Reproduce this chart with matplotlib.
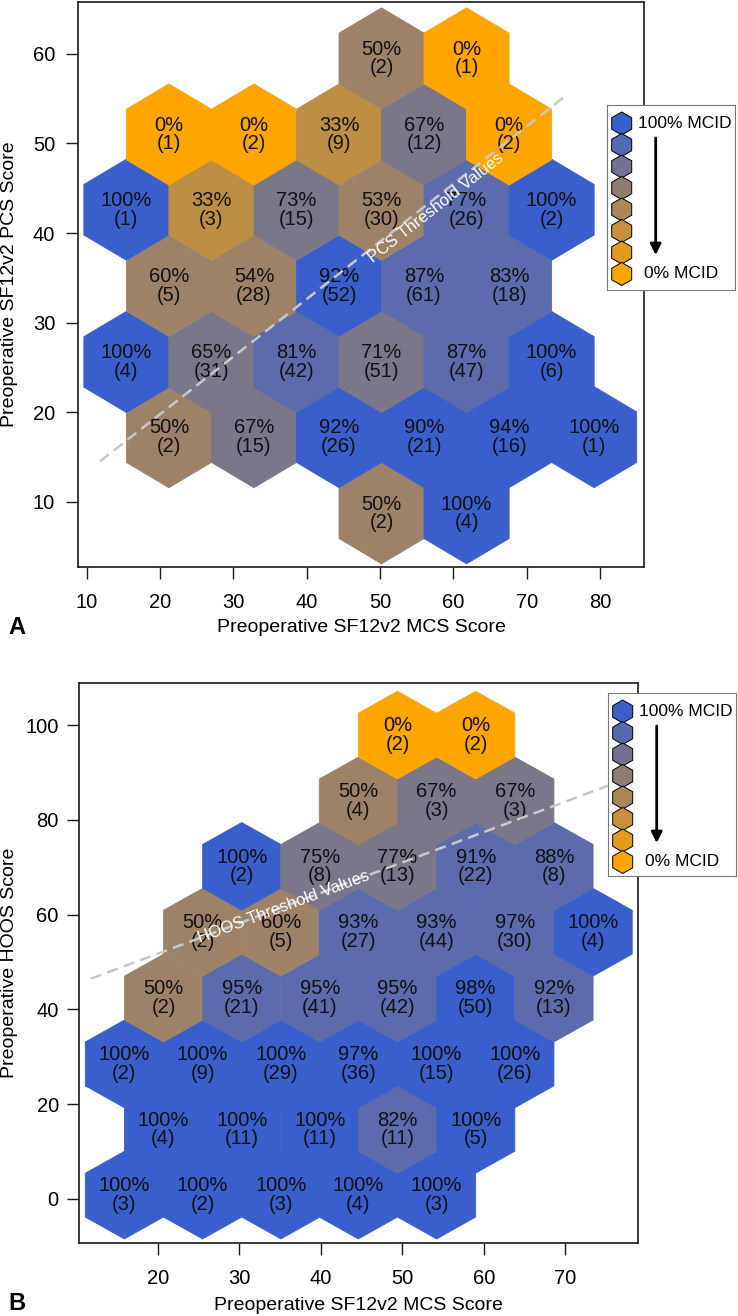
import numpy as np
import matplotlib
matplotlib.use("Agg")
import matplotlib.pyplot as plt
from matplotlib.collections import PolyCollection

plt.rcParams['font.family'] = ['Liberation Sans', 'DejaVu Sans']

W, H = 738, 1316

# ---- panel A: preop MCS (x) vs preop PCS (y), hex bin centres ----
a_mcs = [50.2, 61.8,
         21.2, 32.8, 44.4, 56.0, 67.6, 79.2,
         15.4, 27.0, 38.6, 50.2, 61.8, 73.4,
         21.2, 32.8, 44.4, 56.0, 67.6,
         15.4, 27.0, 38.6, 50.2, 61.8, 73.4,
         21.2, 32.8, 44.4, 56.0, 67.6,
         50.2, 61.8]
a_pcs = [8.7, 8.7,
         17.2, 17.2, 17.2, 17.2, 17.2, 17.2,
         25.6, 25.6, 25.6, 25.6, 25.6, 25.6,
         34.1, 34.1, 34.1, 34.1, 34.1,
         42.6, 42.6, 42.6, 42.6, 42.6, 42.6,
         51.0, 51.0, 51.0, 51.0, 51.0,
         59.5, 59.5]
a_pct = [50, 100,
         50, 67, 92, 90, 94, 100,
         100, 65, 81, 71, 87, 100,
         60, 54, 92, 87, 83,
         100, 33, 73, 53, 77, 100,
         0, 0, 33, 67, 0,
         50, 0]
a_n = [2, 4,
       2, 15, 26, 21, 16, 1,
       4, 31, 42, 51, 47, 6,
       5, 28, 52, 61, 18,
       1, 3, 15, 30, 26, 2,
       1, 2, 9, 12, 2,
       2, 1]
# colour class as drawn (0 = 100% MCID ... 6 = 0% MCID)
a_level = [3, 0,
           3, 2, 0, 0, 0, 0,
           0, 2, 1, 2, 1, 0,
           3, 3, 0, 1, 1,
           0, 4, 2, 3, 1, 0,
           6, 6, 4, 2, 6,
           3, 6]

# ---- panel B: preop MCS (x) vs preop HOOS (y) ----
b_mcs = [15.9, 25.5, 35.1, 44.6, 54.2,
         20.7, 30.3, 39.9, 49.4, 59.0,
         15.9, 25.5, 35.1, 44.6, 54.2, 63.8,
         20.7, 30.3, 39.9, 49.4, 59.0, 68.6,
         25.5, 35.1, 44.6, 54.2, 63.8, 73.4,
         30.3, 39.9, 49.4, 59.0, 68.6,
         44.6, 54.2, 63.8,
         49.4, 59.0]
b_hoos = [0.8, 0.8, 0.8, 0.8, 0.8,
          14.7, 14.7, 14.7, 14.7, 14.7,
          28.5, 28.5, 28.5, 28.5, 28.5, 28.5,
          42.4, 42.4, 42.4, 42.4, 42.4, 42.4,
          56.3, 56.3, 56.3, 56.3, 56.3, 56.3,
          70.2, 70.2, 70.2, 70.2, 70.2,
          84.0, 84.0, 84.0,
          97.9, 97.9]
b_pct = [100, 100, 100, 100, 100,
         100, 100, 100, 82, 100,
         100, 100, 100, 97, 100, 100,
         50, 95, 95, 95, 98, 92,
         50, 60, 93, 93, 97, 100,
         100, 75, 77, 91, 88,
         50, 67, 67,
         0, 0]
b_n = [3, 2, 3, 4, 3,
       4, 11, 11, 11, 5,
       2, 9, 29, 36, 15, 26,
       2, 21, 41, 42, 50, 13,
       2, 5, 27, 44, 30, 4,
       2, 8, 13, 22, 8,
       4, 3, 3,
       2, 2]
b_level = [0, 0, 0, 0, 0,
           0, 0, 0, 1, 0,
           0, 0, 0, 0, 0, 0,
           3, 1, 1, 1, 0, 1,
           3, 3, 1, 1, 1, 0,
           0, 2, 2, 1, 1,
           3, 2, 2,
           6, 6]

# threshold lines (MCS range of the fit)
threshold_x = [11.8, 75.2]
a_threshold_y = [14.5, 55.25]
b_threshold_y = [46.5, 87.2]

BLUE = np.array([58, 95, 205]) / 255.0
ORANGE = np.array([255, 165, 0]) / 255.0


def ramp(t):
    return tuple(BLUE + (ORANGE - BLUE) * t)


def hex_verts(cx, cy, hw, r):
    return [(cx + hw, cy + r / 2), (cx, cy + r), (cx - hw, cy + r / 2),
            (cx - hw, cy - r / 2), (cx, cy - r), (cx + hw, cy - r / 2)]


def px_rect(left, top, right, bottom):
    return [left / W, 1 - bottom / H, (right - left) / W, (bottom - top) / H]


def draw_panel(ax, xs, ys, pct, n, level, dx, dy):
    hw, r = dx / 2, dy / 1.5
    verts = [hex_verts(x, y, hw, r) for x, y in zip(xs, ys)]
    cols = [ramp(l / 6) for l in level]
    ax.add_collection(PolyCollection(verts, facecolors=cols, edgecolors=cols,
                                     linewidths=0.6, zorder=1))
    for x, y, p, k in zip(xs, ys, pct, n):
        ax.text(x, y, f"{p}%\n({k})", ha='center', va='center', fontsize=14.5,
                linespacing=0.97, color='#111111', zorder=3)


def threshold(ax, xs, ys, label, xc, off):
    ax.plot(xs, ys, color='#c8c8c8', lw=1.8, dashes=(4.5, 2.5), zorder=4)
    p0 = ax.transData.transform((xs[0], ys[0]))
    p1 = ax.transData.transform((xs[1], ys[1]))
    ang = np.degrees(np.arctan2(p1[1] - p0[1], p1[0] - p0[0]))
    yc = np.interp(xc, xs, ys)
    a = np.radians(ang)
    ax.annotate(label, (xc, yc), xytext=(-np.sin(a) * off, np.cos(a) * off),
                textcoords='offset pixels', rotation=ang, rotation_mode='anchor',
                ha='center', va='center', color='white', fontsize=12, zorder=5)


def style_axes(ax, xpad, ypad):
    for s in ax.spines.values():
        s.set_linewidth(1.2)
        s.set_color('#1a1a1a')
    ax.tick_params(direction='out', length=8.5, width=1.0, labelsize=14.5,
                   color='#1a1a1a')
    ax.tick_params(axis='x', pad=xpad)
    ax.tick_params(axis='y', pad=ypad)


def draw_legend(fig, left, top, w=128, h=185):
    lax = fig.add_axes(px_rect(left, top, left + w, top + h))
    lax.set_xlim(0, w)
    lax.set_ylim(h, 0)
    lax.set_xticks([])
    lax.set_yticks([])
    lax.set_facecolor('white')
    for s in lax.spines.values():
        s.set_color('#777777')
        s.set_linewidth(0.8)
    verts = [hex_verts(14.7, 18.5 + 21.5 * k, 10, 11.5) for k in range(8)]
    lax.add_collection(PolyCollection(verts, facecolors=[ramp(k / 7) for k in range(8)],
                                      edgecolors='black', linewidths=0.7))
    lax.text(31, 18.5, '100% MCID', va='center', fontsize=12.5)
    lax.text(37, 169, '0% MCID', va='center', fontsize=12.5)
    lax.annotate('', xy=(48.7, 150), xytext=(48.7, 33),
                 arrowprops=dict(arrowstyle='-|>', color='black', lw=2,
                                 mutation_scale=16, shrinkA=0, shrinkB=0))


fig = plt.figure(figsize=(W / 100, H / 100), dpi=100)

# panel A
ax1 = fig.add_axes(px_rect(78, 2, 644, 567))
ax1.set_xlim(8.8, 86.0)
ax1.set_ylim(2.7, 65.8)
ax1.set_xticks(range(10, 81, 10))
ax1.set_yticks(range(10, 61, 10))
style_axes(ax1, 10, 8)
draw_panel(ax1, a_mcs, a_pcs, a_pct, a_n, a_level, 11.6, 8.467)
threshold(ax1, threshold_x, a_threshold_y, 'PCS Threshold Values', 57.0, -8)

# panel B
ax2 = fig.add_axes(px_rect(79, 683, 638, 1243))
ax2.set_xlim(10.34, 78.9)
ax2.set_ylim(-9.3, 108.9)
ax2.set_xticks(range(20, 71, 10))
ax2.set_yticks(range(0, 101, 20))
style_axes(ax2, 10, 6)
draw_panel(ax2, b_mcs, b_hoos, b_pct, b_n, b_level, 9.58, 13.87)
threshold(ax2, threshold_x, b_threshold_y, 'HOOS Threshold Values', 35.4, 0)

draw_legend(fig, 607, 105)
draw_legend(fig, 608, 693, h=183)

# axis titles and panel letters
fig.text(361 / W, 1 - 632 / H, 'Preoperative SF12v2 MCS Score', ha='center',
         va='baseline', fontsize=14)
fig.text(10 / W, 1 - 284.5 / H, 'Preoperative SF12v2 PCS Score', ha='center',
         va='center', rotation=90, fontsize=14)
fig.text(358 / W, 1 - 1310 / H, 'Preoperative SF12v2 MCS Score', ha='center',
         va='baseline', fontsize=14)
fig.text(10 / W, 1 - 963 / H, 'Preoperative HOOS Score', ha='center',
         va='center', rotation=90, fontsize=14)
fig.text(8 / W, 1 - 634 / H, 'A', ha='left', va='baseline', fontsize=17,
         fontweight='bold')
fig.text(8 / W, 1 - 1310 / H, 'B', ha='left', va='baseline', fontsize=17,
         fontweight='bold')

fig.savefig('out.png', dpi=100, facecolor='white')
